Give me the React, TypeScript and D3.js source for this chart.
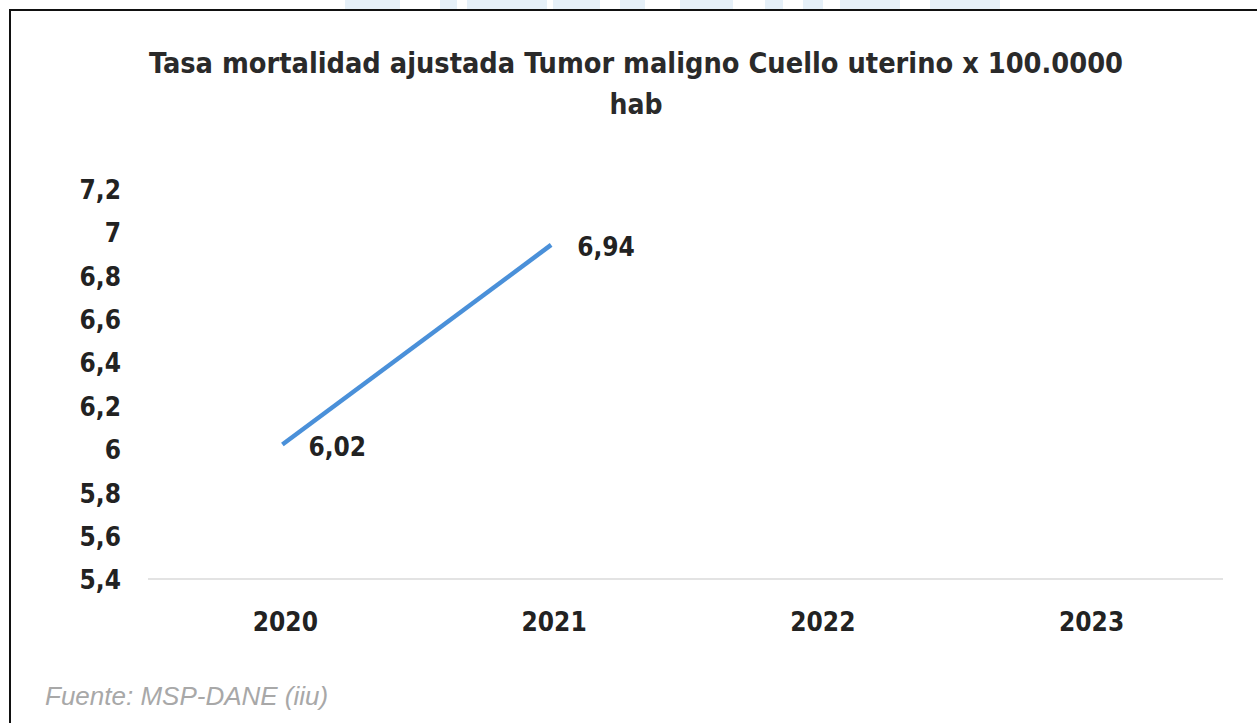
import React from "react";
import * as d3 from "d3";

const categories = ["2020", "2021", "2022", "2023"];
const seriesValues: (number | null)[] = [6.02, 6.94, null, null];
const valueLabels = ["6,02", "6,94", "", ""];
const yTicks = [5.4, 5.6, 5.8, 6, 6.2, 6.4, 6.6, 6.8, 7, 7.2];
const titleLines = ["Tasa mortalidad ajustada Tumor maligno Cuello uterino x 100.0000", "hab"];
const sourceText = "Fuente: MSP-DANE (iiu)";
// faint watermark blocks peeking above the frame: [x0, x1]
const watermarkBlocks: [number, number][] = [
  [345, 400], [440, 457], [467, 547], [553, 600], [620, 645], [680, 733], [765, 783], [803, 823], [840, 900], [930, 1000],
];

const W = 1257;
const H = 723;
const font = "'DejaVu Sans Condensed', 'DejaVu Sans', sans-serif";

export default function App() {
  const x = d3.scaleBand<string>().domain(categories).range([148, 1223]);
  const y = d3.scaleLinear().domain([5.4, 7.2]).range([579, 188.5]);
  const fmt = (v: number) => String(v).replace(".", ",");
  const pts = categories
    .map((c, i) => ({ c, v: seriesValues[i], l: valueLabels[i] }))
    .filter((d) => d.v !== null) as { c: string; v: number; l: string }[];
  const cx = (c: string) => (x(c) as number) + x.bandwidth() / 2;
  const line = d3
    .line<{ c: string; v: number }>()
    .x((d) => cx(d.c))
    .y((d) => y(d.v));

  return (
    <svg
      width={W}
      height={H}
      style={{ position: "absolute", left: 0, top: 0, background: "#fff" }}
    >
      <rect x={0} y={0} width={W} height={H} fill="#fff" />
      {watermarkBlocks.map(([a, b], i) => (
        <rect key={i} x={a} y={0} width={b - a} height={9} fill="#e6f0f8" />
      ))}
      <line x1={9} y1={10} x2={W} y2={10} stroke="#111" strokeWidth={2} />
      <line x1={10} y1={9} x2={10} y2={H} stroke="#111" strokeWidth={2} />
      {titleLines.map((t, i) => (
        <text
          key={i}
          x={636}
          y={i === 0 ? 73 : 114}
          textAnchor="middle"
          fontFamily={font}
          fontWeight="bold"
          fontSize={28}
          fill="#2a2a2a"
          textLength={i === 0 ? 974 : undefined}
          lengthAdjust="spacingAndGlyphs"
        >
          {t}
        </text>
      ))}
      <line x1={x.range()[0]} x2={x.range()[1]} y1={y(5.4)} y2={y(5.4)} stroke="#e3e3e3" strokeWidth={2} />
      {yTicks.map((t) => (
        <text
          key={t}
          x={121}
          y={y(t) + 1}
          dy="0.36em"
          textAnchor="end"
          fontFamily={font}
          fontWeight="bold"
          fontSize={26}
          fill="#222"
        >
          {fmt(t)}
        </text>
      ))}
      {categories.map((c) => (
        <text
          key={c}
          x={cx(c) + 3}
          y={631}
          textAnchor="middle"
          fontFamily={font}
          fontWeight="bold"
          fontSize={26}
          fill="#222"
        >
          {c}
        </text>
      ))}
      <path d={line(pts) || ""} fill="none" stroke="#4a90d9" strokeWidth={4.5} />
      {pts.map((d) => (
        <text
          key={d.c}
          x={cx(d.c) + 26}
          y={y(d.v) + 2}
          dy="0.36em"
          fontFamily={font}
          fontWeight="bold"
          fontSize={26}
          fill="#222"
        >
          {d.l}
        </text>
      ))}
      <text
        x={45}
        y={705}
        fontFamily="'Liberation Sans', Arial, sans-serif"
        fontStyle="italic"
        fontSize={26}
        fill="#a8a8a8"
      >
        {sourceText}
      </text>
    </svg>
  );
}
